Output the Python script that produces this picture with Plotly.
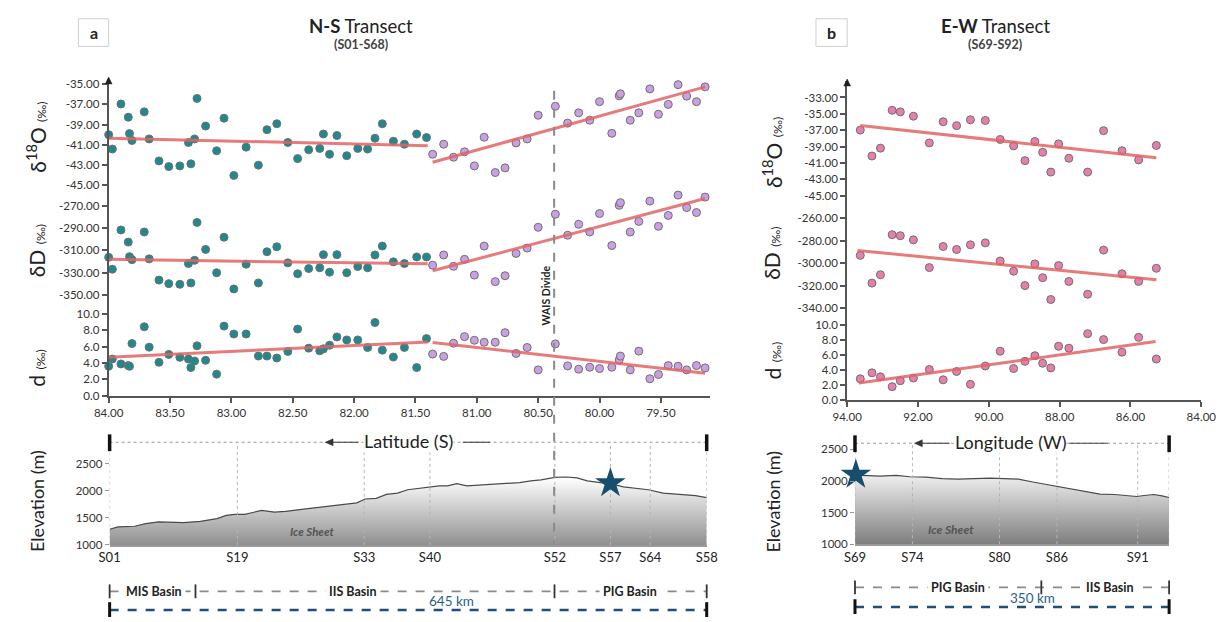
import plotly.graph_objects as go

# ------------------------------------------------------------------ data
# Panel a  (N-S transect), teal samples (latitude, S)
ns1_lat = [84.00, 83.97, 83.90, 83.84, 83.83, 83.81, 83.71, 83.67, 83.59, 83.51, 83.42, 83.35, 83.33,
           83.30, 83.28, 83.21, 83.12, 83.06, 82.98, 82.88, 82.78, 82.71, 82.63, 82.54, 82.46, 82.37,
           82.28, 82.25, 82.20, 82.14, 82.06, 81.97, 81.89, 81.83, 81.77, 81.68, 81.59, 81.49, 81.41]
ns1_d18o = [-40.00, -41.43, -36.96, -38.27, -39.90, -40.58, -37.74, -40.43, -42.61, -43.17, -43.10, -40.78,
            -42.90, -40.43, -36.41, -39.15, -41.60, -38.37, -44.05, -41.24, -43.03, -39.51, -38.92, -40.78,
            -42.38, -41.50, -41.37, -39.94, -41.95, -40.09, -42.09, -41.37, -41.43, -40.36, -38.92, -40.65,
            -40.95, -39.94, -40.29]
ns1_dD = [-316.2, -326.9, -291.6, -302.5, -315.6, -318.3, -293.4, -317.6, -336.7, -339.9, -340.5, -321.8,
          -339.3, -318.9, -284.8, -309.1, -330.1, -298.1, -344.7, -322.4, -339.3, -311.2, -306.7, -321.2,
          -331.0, -326.3, -325.6, -313.8, -329.6, -313.8, -330.1, -324.5, -325.6, -314.1, -306.1, -320.3,
          -321.8, -315.9, -315.9]
ns1_dex = [3.60, 4.48, 3.88, 3.68, 3.60, 6.36, 8.40, 5.92, 4.08, 5.04, 4.68, 4.48, 3.44, 4.24, 6.08, 4.32,
           2.64, 8.48, 7.52, 7.52, 4.84, 4.84, 4.60, 5.40, 8.12, 5.80, 5.48, 5.72, 6.16, 7.16, 6.80, 6.80,
           5.88, 8.92, 5.56, 4.72, 5.88, 3.44, 6.96]

# Panel a, purple samples (south of 81.4 S)
ns2_lat = [81.36, 81.27, 81.19, 81.10, 81.02, 80.94, 80.85, 80.77, 80.68, 80.59, 80.50, 80.36, 80.26, 80.17,
           80.08, 80.00, 79.90, 79.84, 79.83, 79.75, 79.68, 79.59, 79.52, 79.44, 79.36, 79.29, 79.21, 79.14]
ns2_d18o = [-41.95, -40.95, -42.24, -41.70, -43.10, -40.26, -43.76, -43.30, -40.82, -40.43, -38.08, -37.19,
            -38.86, -37.84, -38.57, -36.73, -39.87, -36.15, -35.95, -38.57, -37.84, -35.46, -37.98, -37.00,
            -35.04, -36.18, -36.73, -35.26]
ns2_dD = [-323.3, -314.1, -324.3, -318.0, -332.2, -306.1, -338.1, -332.8, -312.7, -307.9, -289.2, -277.4,
          -296.3, -286.5, -293.4, -276.8, -305.6, -269.4, -267.0, -293.4, -283.9, -265.6, -288.3, -278.5,
          -260.2, -271.4, -275.9, -262.0]
ns2_dex = [5.08, 4.80, 6.40, 7.20, 6.76, 6.52, 6.52, 7.68, 5.16, 5.88, 3.16, 6.32, 3.64, 3.24, 3.48, 3.32,
           3.48, 4.36, 4.84, 3.16, 5.44, 2.08, 2.60, 3.68, 3.60, 3.16, 3.68, 3.40]

# Panel a trend lines (end points)
ns1_tr_lat = [84.00, 81.40]
ns1_tr_d18o = [-40.35, -41.10]
ns1_tr_dD = [-318.0, -322.1]
ns1_tr_dex = [4.68, 6.56]
ns2_tr_lat = [81.36, 79.14]
ns2_tr_d18o = [-42.74, -35.26]
ns2_tr_dD = [-328.3, -263.2]
ns2_tr_dex = [6.48, 2.76]
wais_lat = 80.37

# Panel b (E-W transect), longitude W
ew_lon = [93.63, 93.30, 93.06, 92.73, 92.50, 92.13, 91.68, 91.29, 90.91, 90.52, 90.10, 89.68, 89.30, 88.98,
          88.70, 88.48, 88.25, 88.03, 87.74, 87.21, 86.76, 86.24, 85.77, 85.27]
ew_d18o = [-36.99, -40.16, -39.20, -34.57, -34.76, -35.29, -38.56, -35.97, -36.45, -35.73, -35.81, -38.14,
           -38.92, -40.73, -38.39, -39.71, -42.13, -38.68, -40.44, -42.13, -37.06, -39.52, -40.64, -38.87]
ew_dD = [-293.1, -317.8, -310.4, -274.7, -275.6, -279.3, -304.0, -285.2, -287.9, -283.7, -282.0, -298.1,
         -307.2, -320.0, -300.7, -313.0, -332.4, -302.2, -316.3, -327.7, -288.4, -309.5, -316.3, -304.6]
ew_dex = [2.85, 3.65, 3.12, 1.80, 2.59, 2.95, 4.10, 2.72, 3.83, 2.11, 4.57, 6.55, 4.23, 5.19, 5.94, 4.93,
          4.31, 7.21, 6.95, 8.89, 8.10, 6.42, 8.40, 5.50]
ew_tr_lon_d18o = [93.63, 85.27]
ew_tr_d18o = [-36.42, -40.37]
ew_tr_lon_dD = [93.71, 85.27]
ew_tr_dD = [-288.7, -314.8]
ew_tr_lon_dex = [93.67, 85.29]
ew_tr_dex = [2.29, 7.83]

# Elevation profiles (distance along transect km, elevation m)
ns_km = [0, 9, 27, 39, 53, 71, 80, 98, 107, 116, 126, 135, 146, 164, 178, 190, 212, 226, 244, 267, 276, 288,
         299, 311, 322, 333, 347, 356, 365, 375, 386, 402, 416, 443, 455, 466, 481, 493, 505, 516, 530, 541,
         555, 573, 582, 598, 619, 633, 645]
ns_elev = [1290, 1333, 1345, 1394, 1424, 1424, 1412, 1436, 1455, 1485, 1545, 1564, 1564, 1636, 1606, 1618,
           1667, 1697, 1727, 1776, 1848, 1860, 1933, 1957, 2018, 2042, 2073, 2091, 2091, 2133, 2091, 2109,
           2133, 2151, 2182, 2200, 2248, 2254, 2236, 2182, 2151, 2133, 2073, 2042, 2018, 1957, 1921, 1909, 1873]
ns_station_km = [0, 138, 275, 346, 481, 541, 584, 645]
ns_station_lbl = ["S01", "S19", "S33", "S40", "S52", "S57", "S64", "S58"]
ns_star = ([541], [2140])

ew_km = [0, 28, 46, 61, 79, 97, 115, 140, 151, 166, 182, 198, 217, 231, 253, 273, 289, 307, 314, 322, 333,
         342, 350]
ew_elev = [2094, 2078, 2089, 2068, 2063, 2037, 2031, 2037, 2047, 2037, 2031, 1985, 1938, 1906, 1844, 1792,
           1787, 1771, 1755, 1771, 1787, 1766, 1740]
ew_station_km = [0, 64, 161, 225, 315]
ew_station_lbl = ["S69", "S74", "S80", "S86", "S91"]
ew_end_km = 350
ew_star = ([1], [2100])

# tick values
ns_xticks = [84.0, 83.5, 83.0, 82.5, 82.0, 81.5, 81.0, 80.5, 80.0, 79.5]
ew_xticks = [94, 92, 90, 88, 86, 84]
a_d18o_ticks = [-35, -37, -39, -41, -43, -45]
a_dD_ticks = [-270, -290, -310, -330, -350]
b_d18o_ticks = [-33, -35, -37, -39, -41, -43, -45]
b_dD_ticks = [-260, -280, -300, -320, -340]
dex_ticks = [0, 2, 4, 6, 8, 10]
elev_ticks = [1000, 1500, 2000, 2500]

# ------------------------------------------------------------------ layout helpers
W, H = 1229, 622
def X(px): return px / W
def Y(py): return 1 - py / H

FONT = "Lato"
TEAL = "#1f8a8e"
PURP = "#c9a0e2"
PINK = "#e57fab"
RED = "rgba(226,100,100,0.85)"
AX = "#555555"
NS_TOP, EW_TOP = 2895, 2598

fig = go.Figure()

def pts(x, y, xa, ya, c):
    fig.add_trace(go.Scatter(x=x, y=y, xaxis=xa, yaxis=ya, mode="markers", cliponaxis=False,
                             marker=dict(size=8, color=c, line=dict(color="#707070", width=1)),
                             showlegend=False, hoverinfo="skip"))

def trend(x, y, xa, ya):
    fig.add_trace(go.Scatter(x=x, y=y, xaxis=xa, yaxis=ya, mode="lines", cliponaxis=False,
                             line=dict(color=RED, width=3), showlegend=False, hoverinfo="skip"))

# Panel a scatter
pts(ns1_lat, ns1_d18o, "x", "y", TEAL)
pts(ns1_lat, ns1_dD, "x", "y2", TEAL)
pts(ns1_lat, ns1_dex, "x", "y3", TEAL)
pts(ns2_lat, ns2_d18o, "x", "y", PURP)
pts(ns2_lat, ns2_dD, "x", "y2", PURP)
pts(ns2_lat, ns2_dex, "x", "y3", PURP)
trend(ns1_tr_lat, ns1_tr_d18o, "x", "y")
trend(ns1_tr_lat, ns1_tr_dD, "x", "y2")
trend(ns1_tr_lat, ns1_tr_dex, "x", "y3")
trend(ns2_tr_lat, ns2_tr_d18o, "x", "y")
trend(ns2_tr_lat, ns2_tr_dD, "x", "y2")
trend(ns2_tr_lat, ns2_tr_dex, "x", "y3")

# Panel b scatter
pts(ew_lon, ew_d18o, "x2", "y4", PINK)
pts(ew_lon, ew_dD, "x2", "y5", PINK)
pts(ew_lon, ew_dex, "x2", "y6", PINK)
trend(ew_tr_lon_d18o, ew_tr_d18o, "x2", "y4")
trend(ew_tr_lon_dD, ew_tr_dD, "x2", "y5")
trend(ew_tr_lon_dex, ew_tr_dex, "x2", "y6")

# Elevation profiles
def profile(km, elev, xa, ya, dark):
    fig.add_trace(go.Scatter(x=km, y=elev, xaxis=xa, yaxis=ya, mode="lines", fill="tozeroy",
                             fillgradient=dict(type="vertical", start=1000, stop=2250,
                                               colorscale=[[0, dark], [1, "#ffffff"]]),
                             line=dict(color="#4a4a4a", width=1.2), showlegend=False, hoverinfo="skip"))

def station_lines(kms, top, xa, ya):
    xs, ys = [], []
    for k in kms:
        xs += [k, k, None]
        ys += [1000, top, None]
    fig.add_trace(go.Scatter(x=xs, y=ys, xaxis=xa, yaxis=ya, mode="lines", cliponaxis=False,
                             line=dict(color="#b5b5b5", width=1, dash="dot"), showlegend=False,
                             hoverinfo="skip"))

profile(ns_km, ns_elev, "x3", "y7", "#8e8e8e")
profile(ew_km, ew_elev, "x4", "y8", "#7c7c7c")
station_lines(ns_station_km, NS_TOP, "x3", "y7")
station_lines(ew_station_km + [ew_end_km], EW_TOP, "x4", "y8")
for (sx, sy), xa, ya in [(ns_star, "x3", "y7"), (ew_star, "x4", "y8")]:
    fig.add_trace(go.Scatter(x=sx, y=sy, xaxis=xa, yaxis=ya, mode="markers", cliponaxis=False,
                             marker=dict(symbol="star", size=23, color="#174e6c", line=dict(width=0)),
                             showlegend=False, hoverinfo="skip"))

# ------------------------------------------------------------------ axes
tickfont = dict(family=FONT, size=11.5, color="#333")

def yax(dom_bot, dom_top, rng, tv, fmt, anchor):
    return dict(domain=[Y(dom_bot), Y(dom_top)], range=rng, anchor=anchor, showline=True, linecolor=AX,
                linewidth=2, ticks="outside", ticklen=5, tickcolor=AX, tickwidth=1.5,
                tickvals=tv, ticktext=[fmt.format(v) for v in tv], tickfont=tickfont,
                showgrid=False, zeroline=False)

def xax(d0, d1, rng, tv, anchor):
    return dict(domain=[X(d0), X(d1)], range=rng, anchor=anchor, showline=True, linecolor=AX, linewidth=2,
                ticks="outside", ticklen=5, tickcolor=AX, tickwidth=1.5, tickvals=tv,
                ticktext=["{:.2f}".format(v) for v in tv], tickfont=tickfont, showgrid=False, zeroline=False)

def elev_x(d0, d1, rng, tv, tt, anchor):
    return dict(domain=[X(d0), X(d1)], range=rng, anchor=anchor, showline=True, linecolor="#9a9a9a",
                linewidth=1.5, ticks="", tickvals=tv, ticktext=tt,
                tickfont=dict(family=FONT, size=13, color="#222"), showgrid=False, zeroline=False)

def elev_y(d0, d1, rng, anchor):
    return dict(domain=[Y(d0), Y(d1)], range=rng, anchor=anchor, showline=False, ticks="outside",
                ticklen=4, tickcolor="#999", tickvals=elev_ticks, ticktext=[str(v) for v in elev_ticks],
                tickfont=tickfont, showgrid=False, zeroline=False)

fig.update_layout(
    width=W, height=H, autosize=False, margin=dict(l=0, r=0, t=0, b=0),
    paper_bgcolor="white", plot_bgcolor="rgba(0,0,0,0)", font=dict(family=FONT, color="#222"),
    xaxis=xax(96, 712, [84.0, 79.103], ns_xticks, "y3"),
    yaxis=yax(190, 78, [-45.45, -34.48], a_d18o_ticks, "{:.2f}", "x"),
    yaxis2=yax(305, 190, [-357.4, -255.2], a_dD_ticks, "{:.2f}", "x"),
    yaxis3=yax(399, 305, [0, 11.28], dex_ticks, "{:.1f}", "x"),
    xaxis2=xax(853, 1216, [94, 84], ew_xticks, "y6"),
    yaxis4=yax(205, 80, [-46.08, -30.98], b_d18o_ticks, "{:.2f}", "x2"),
    yaxis5=yax(318, 205, [-347.0, -247.7], b_dD_ticks, "{:.2f}", "x2"),
    yaxis6=yax(403.3, 318, [0, 11.27], dex_ticks, "{:.1f}", "x2"),
    xaxis3=elev_x(97, 709, [0, 645], ns_station_km, ns_station_lbl, "y7"),
    yaxis7=elev_y(550, 446, [1000, NS_TOP], "x3"),
    xaxis4=elev_x(861, 1183, [0, 350], ew_station_km, ew_station_lbl, "y8"),
    yaxis8=elev_y(549.3, 447, [1000, EW_TOP], "x4"),
)

# ------------------------------------------------------------------ shapes & annotations
shapes = []
ann = []

def pline(x0, y0, x1, y1, color, width, dash="solid"):
    shapes.append(dict(type="line", xref="paper", yref="paper", x0=X(x0), y0=Y(y0), x1=X(x1), y1=Y(y1),
                       line=dict(color=color, width=width, dash=dash)))

def tri(p1, p2, p3, color):
    path = "M %f %f L %f %f L %f %f Z" % (X(p1[0]), Y(p1[1]), X(p2[0]), Y(p2[1]), X(p3[0]), Y(p3[1]))
    shapes.append(dict(type="path", xref="paper", yref="paper", path=path, fillcolor=color,
                       line=dict(color=color, width=0.5)))

def text(px, py, s, size, color="#222", angle=0, bg=None, **kw):
    d = dict(x=X(px), y=Y(py), xref="paper", yref="paper", text=s, showarrow=False, textangle=angle,
             font=dict(family=FONT, size=size, color=color), xanchor="center", yanchor="middle", borderpad=0)
    if bg:
        d["bgcolor"] = bg
    d.update(kw)
    ann.append(d)

# panel labels
for x0, x1, lab in [(65, 96, "a"), (821, 853, "b")]:
    shapes.append(dict(type="rect", xref="paper", yref="paper", x0=X(x0), x1=X(x1), y0=Y(45), y1=Y(17),
                       line=dict(color="#cfcfcf", width=1), fillcolor="white"))
    text((x0 + x1) / 2, 31, "<b>%s</b>" % lab, 16)

text(355, 24, "<b>N-S</b> Transect", 18.5)
text(355, 43, "<b>(S01-S68)</b>", 12.5, "#444")
text(1005, 24, "<b>E-W</b> Transect", 18.5)
text(1005, 43, "<b>(S69-S92)</b>", 12.5, "#444")

# y-axis arrows
for ax_x, top in [(96, 76), (853, 78)]:
    tri((ax_x, top), (ax_x - 3.5, top + 7), (ax_x + 3.5, top + 7), "#222")

# y titles
small = "<span style='font-size:12px'>(‰)</span>"
for xx, ys in [(22, (137, 252, 370)), (776, (153, 255, 363))]:
    text(xx, ys[0], "δ<sup>18</sup>O " + small, 21, angle=-90)
    text(xx, ys[1], "δD " + small, 21, angle=-90)
    text(xx, ys[2], "d " + small, 21, angle=-90)
text(22, 505, "Elevation (m)", 18, angle=-90)
text(777, 506, "Elevation (m)", 18, angle=-90)

# WAIS divide line (drawn at its latitude on the top axis)
wx = 96 + (84.0 - wais_lat) / (84.0 - 79.103) * (712 - 96)
pline(wx, 90, wx, 550, "#8a8a8a", 2, "dash")
text(wx - 8, 297, "<b>WAIS Divide</b>", 10.5, "#222", angle=-90)

# header lines
def header(x0, x1, yy, arrow_x, label, label_x, pre1, post0, post1):
    pline(x0, yy, x1, yy, "#9a9a9a", 1, "dot")
    pline(x0, yy - 8, x0, yy + 9, "#111", 3.5)
    pline(x1, yy - 8, x1, yy + 9, "#111", 3.5)
    tri((arrow_x, yy), (arrow_x + 8, yy - 3.5), (arrow_x + 8, yy + 3.5), "#333")
    pline(arrow_x + 6, yy, pre1, yy, "#444", 1.1)
    text(label_x, yy - 1, label, 18, "#222", bg="white")
    pline(post0, yy, post1, yy, "#444", 1.1)

header(97, 709, 446, 318, "Latitude (S)", 403, 352, 459, 487)
header(861, 1183, 447, 922, "Longitude (W)", 1020, 958, 1080, 1120)

text(305, 536, "<b><i>Ice Sheet</i></b>", 11.5, "#555")
text(959, 534, "<b><i>Ice Sheet</i></b>", 12, "#555")

# basin rows
def basins(x0, x1, yy, ticks, labels, yb, km_label, km_x):
    pline(x0, yy, x1, yy, "#8a8a8a", 1.8, "dash")
    for t in ticks:
        pline(t, yy - 7, t, yy + 7, "#333", 1.8)
    for lx, lt in labels:
        text(lx, yy, "<b>" + lt + "</b>", 12.5, "#222", bg="white")
    pline(x0, yb, x1, yb, "#1f4e79", 2.5, "dash")
    pline(x0, yb - 8, x0, yb + 7, "#111", 3)
    pline(x1, yb - 8, x1, yb + 7, "#111", 3)
    text(km_x, yb - 9, km_label, 13.5, "#2a5f86")

basins(97, 709, 597, [97, 185, 553, 709], [(142, " MIS Basin "), (346, " IIS Basin "), (630, " PIG Basin ")],
       616, "645 km", 447)
basins(861, 1183, 593, [861, 1052, 1183], [(967, " PIG Basin "), (1122, " IIS Basin ")],
       613, "350 km", 1043)

fig.update_layout(shapes=shapes, annotations=ann)
fig.write_html("out.html")
